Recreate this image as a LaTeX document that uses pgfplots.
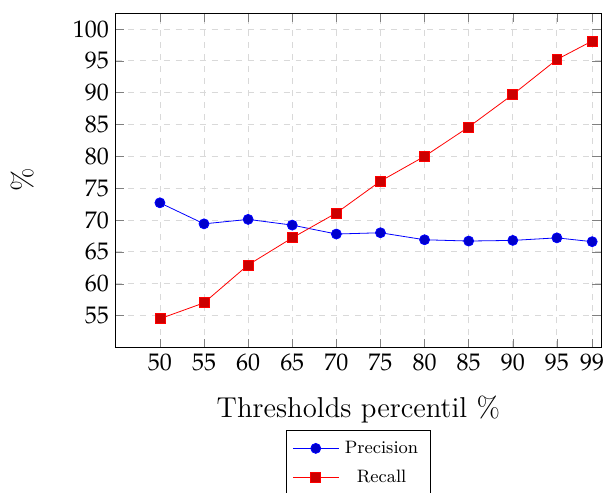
\documentclass[border=0pt]{standalone}
\usepackage{mathpazo}
\usepackage{pgfplots}
\pgfplotsset{compat=1.18}
\begin{document}
\begin{tikzpicture}
\begin{axis}[
  scale only axis,
  width=243pt, height=167.5pt,
  xmin=45, xmax=100,
  ymin=50, ymax=102.5,
  xtick={50,55,60,65,70,75,80,85,90,95,99},
  ytick={55,60,65,70,75,80,85,90,95,100},
  grid=major,
  grid style={dashed, gray!30},
  tick label style={font=\large},
  label style={font=\Large},
  xlabel={Thresholds percentil \%},
  ylabel={\%},
  xlabel style={at={(axis description cs:0.5,-0.185)}, anchor=center},
  ylabel style={at={(axis description cs:-0.193,0.5)}, anchor=center},
  legend style={at={(0.5,-0.248)}, anchor=north, font=\small,
    legend cell align=center, nodes={inner sep=3pt}, row sep=1pt},
  legend image code/.code={\draw[mark repeat=2,mark phase=2] plot coordinates {(0cm,0cm) (0.4cm,0cm) (0.8cm,0cm)};},
]
\addplot+[mark=*, mark size=2.5pt] coordinates {
(50,72.7) (55,69.4) (60,70.1) (65,69.2) (70,67.8) (75,68.0) (80,66.9) (85,66.7) (90,66.8) (95,67.2) (99,66.6)
};
\addlegendentry{Precision}
\addplot+[mark=square*, mark size=2.5pt] coordinates {
(50,54.5) (55,57.0) (60,62.95) (65,67.2) (70,71.1) (75,76.1) (80,80.0) (85,84.6) (90,89.7) (95,95.2) (99,98.1)
};
\addlegendentry{Recall}
\end{axis}
\pgfresetboundingbox
\path (current axis.south west) ++(-58pt,-72.5pt) rectangle ++(303.5pt,246.5pt);
\end{tikzpicture}
\end{document}
